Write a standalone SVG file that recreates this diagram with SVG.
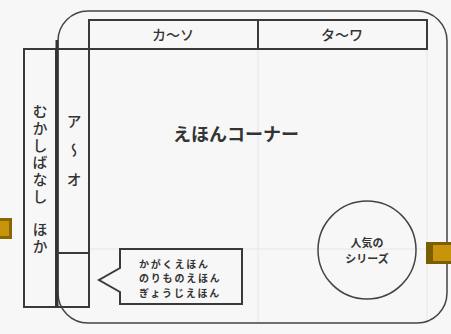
<svg xmlns="http://www.w3.org/2000/svg" width="451" height="334" viewBox="0 0 451 334">
<style>
.ln{fill:none;stroke:#3a3a3a;stroke-width:2}
.thin{fill:none;stroke:#444;stroke-width:1.5}
.faint{stroke:#e6e6e6;stroke-width:1}
text{font-family:"Noto Sans CJK JP","Noto Sans",sans-serif;fill:#333;text-anchor:middle;dominant-baseline:central}
.t14{font-size:14px;font-weight:500}
.big{font-size:18px;font-weight:bold}
.sm{font-size:10px;font-weight:bold;text-anchor:start;letter-spacing:1.8px}
.smc{font-size:11px;font-weight:bold}
.v{font-size:15px;writing-mode:vertical-rl;text-anchor:start;dominant-baseline:auto;font-weight:500}
</style>
<rect width="451" height="334" fill="#f7f7f7"/>
<g id="bg-lines">
<line class="faint" x1="258" y1="49" x2="258" y2="323"/>
<line class="faint" x1="427" y1="49" x2="427" y2="323"/>
<line class="faint" x1="89" y1="249" x2="447" y2="249"/>
</g>
<g id="room">
<rect class="thin" x="58" y="11" width="389" height="312" rx="30" ry="30"/>
</g>
<g id="shelf-top">
<rect class="ln" x="89" y="20" width="338" height="29"/>
<line class="ln" x1="258" y1="20" x2="258" y2="49"/>
<text class="t14" x="173" y="34">カ～ソ</text>
<text class="t14" x="342" y="34">タ～ワ</text>
</g>
<g id="shelf-mukashi">
<rect class="ln" x="24" y="49" width="32" height="258"/>
<text class="v" x="40" y="104">む</text>
<text class="v" x="40" y="121">か</text>
<text class="v" x="40" y="138">し</text>
<text class="v" x="40" y="155">ば</text>
<text class="v" x="40" y="172">な</text>
<text class="v" x="40" y="189">し</text>
<text class="v" x="40" y="222">ほ</text>
<text class="v" x="40" y="239">か</text>
</g>
<g id="shelf-a-o">
<rect class="ln" x="57" y="49" width="32" height="258"/>
<line x1="57" y1="40" x2="57" y2="307" stroke="#333" stroke-width="3"/>
<line class="ln" x1="57" y1="253" x2="89" y2="253"/>
<text class="v" x="74" y="114">ア</text>
<text class="v" x="74" y="143">～</text>
<text class="v" x="74" y="172">オ</text>
</g>
<g id="ehon-corner">
<text class="big" x="236" y="133">えほんコーナー</text>
</g>
<g id="bubble">
<path class="ln" d="M120,249 H242 V304 H120 V292 L99,280 L120,268 Z"/>
<text class="sm" x="139" y="263">かがくえほん</text>
<text class="sm" x="139" y="277.5">のりものえほん</text>
<text class="sm" x="139" y="292">ぎょうじえほん</text>
</g>
<g id="popular">
<circle class="thin" cx="367" cy="250" r="49"/>
<text class="smc" x="367" y="242">人気の</text>
<text class="smc" x="367" y="258">シリーズ</text>
</g>
<g id="door-left">
<rect x="0" y="218" width="12" height="21" fill="#8a6800"/>
<rect x="0" y="221" width="9" height="15" fill="#c8940c"/>
</g>
<g id="door-right">
<rect x="426" y="242" width="25" height="22" fill="#7a5e00"/>
<rect x="433" y="245" width="18" height="16" fill="#c8940c"/>
</g>
</svg>
